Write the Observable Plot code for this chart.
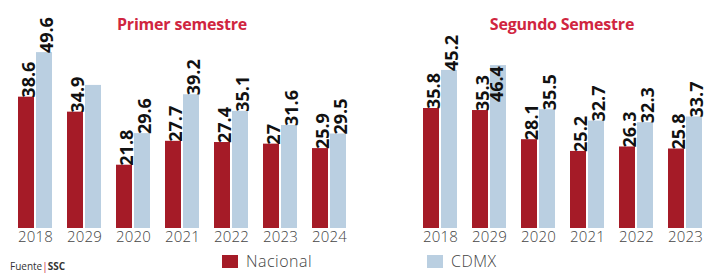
<!DOCTYPE html>
<html>
<head>
<meta charset="utf-8">
<script src="https://cdn.jsdelivr.net/npm/d3@7"></script>
<script src="https://cdn.jsdelivr.net/npm/@observablehq/plot@0.6"></script>
<style>
  html, body { margin: 0; padding: 0; background: #fff; overflow: hidden; }
  #wrap { position: relative; width: 706px; height: 273px; font-family: "Open Sans", sans-serif; }
  .panel { position: absolute; top: 0; }
  .title { position: absolute; top: 13px; font-weight: 700; font-size: 16px; color: #d0253f; transform: translateX(-50%); white-space: nowrap; letter-spacing: -0.2px; }
  .leg { position: absolute; top: 250px; display: flex; align-items: center; font-size: 16px; font-weight: 300; color: #444; letter-spacing: 0.5px; }
  .sw { width: 16px; height: 13px; margin-right: 8px; }
  .src { position: absolute; left: 10px; top: 259px; font-size: 10px; color: #333; }
</style>
</head>
<body>
<div id="wrap">
  <div class="panel" id="p1"></div>
  <div class="panel" id="p2" style="left:360px"></div>
</div>
<script>
const years = ["2018", "2029", "2020", "2021", "2022", "2023", "2024"];
const series = ["Nacional", "CDMX"];
const panels = ["Primer semestre", "Segundo Semestre"];
const nacional1 = [38.6, 34.9, 21.8, 27.7, 27.4, 27, 25.9];
const cdmx1 = [49.6, 41.5, 29.6, 39.2, 35.1, 31.6, 29.5];
const nacional2 = [35.8, 35.3, 28.1, 25.2, 26.3, 25.8];
const cdmx2 = [45.2, 46.4, 35.5, 32.7, 32.3, 33.7];
const colors = ["#a51b27", "#bacfe1"];
const source = "SSC";

const yMin = 6.17, yMax = 60;

function rowsFor(nac, cdmx, panel) {
  const rows = [];
  nac.forEach((v, i) => rows.push({panel, year: years[i], series: "Nacional", value: v}));
  cdmx.forEach((v, i) => rows.push({panel, year: years[i], series: "CDMX", value: v}));
  return rows;
}
const rows1 = rowsFor(nacional1, cdmx1, panels[0]);
const rows2 = rowsFor(nacional2, cdmx2, panels[1]);

// label not shown in the original, and the one drawn inside its bar
const hidden = d => d.panel === panels[0] && d.year === "2029" && d.series === "CDMX";
const inside = d => d.panel === panels[1] && d.year === "2029" && d.series === "CDMX";

function chart(rows, nYears, width, marginLeft, marginRight) {
  return Plot.plot({
    width, height: 250,
    marginTop: 10, marginBottom: 22, marginLeft, marginRight,
    style: {fontFamily: "Open Sans, sans-serif", fontSize: "15px", fontWeight: 300, color: "#444", letterSpacing: "0.2px", background: "transparent"},
    fx: {domain: years.slice(0, nYears), paddingInner: 13 / 49, paddingOuter: 0, axis: "bottom", tickSize: 0, tickPadding: 3, label: null},
    x: {domain: series, paddingInner: 0.1, paddingOuter: 0, axis: null},
    y: {domain: [yMin, yMax], axis: null},
    color: {domain: series, range: colors},
    marks: [
      Plot.barY(rows, {fx: "year", x: "series", y1: yMin, y2: "value", fill: "series"}),
      Plot.text(rows.filter(d => !hidden(d) && !inside(d)), {
        fx: "year", x: "series", y: "value", text: d => String(d.value),
        rotate: -90, textAnchor: "start", dx: 3, dy: 0.5,
        fontSize: 18, fontWeight: 700, fill: "#111"
      }),
      Plot.text(rows.filter(inside), {
        fx: "year", x: "series", y: "value", text: d => String(d.value),
        rotate: -90, textAnchor: "end", dx: -1, dy: 0.5,
        fontSize: 18, fontWeight: 700, fill: "#111"
      })
    ]
  });
}

const c1 = chart(rows1, 7, 360, 17, 13);
const c2 = chart(rows2, 6, 346, 62, 3);
[c1, c2].forEach(c => c.querySelectorAll("text").forEach(t => {
  if (t.getAttribute("font-weight") === "700" || (t.parentNode && t.parentNode.getAttribute && t.parentNode.getAttribute("font-weight") === "700")) t.style.letterSpacing = "0";
}));
document.getElementById("p1").appendChild(c1);
document.getElementById("p2").appendChild(c2);

const wrap = document.getElementById("wrap");
function addTitle(text, cx) {
  const d = document.createElement("div");
  d.className = "title"; d.textContent = text; d.style.left = cx + "px";
  wrap.appendChild(d);
}
addTitle(panels[0], 182);
addTitle(panels[1], 562);

function addLegend(label, color, left) {
  const d = document.createElement("div");
  d.className = "leg"; d.style.left = left + "px";
  const sw = document.createElement("span"); sw.className = "sw"; sw.style.background = color;
  const tx = document.createElement("span"); tx.textContent = label;
  d.appendChild(sw); d.appendChild(tx);
  wrap.appendChild(d);
}
addLegend(series[0], colors[0], 222);
addLegend(series[1], colors[1], 427);

const src = document.createElement("div");
src.className = "src";
src.innerHTML = 'Fuente<span style="color:#d0253f">|</span><b>' + source + '</b>';
wrap.appendChild(src);
</script>
</body>
</html>
